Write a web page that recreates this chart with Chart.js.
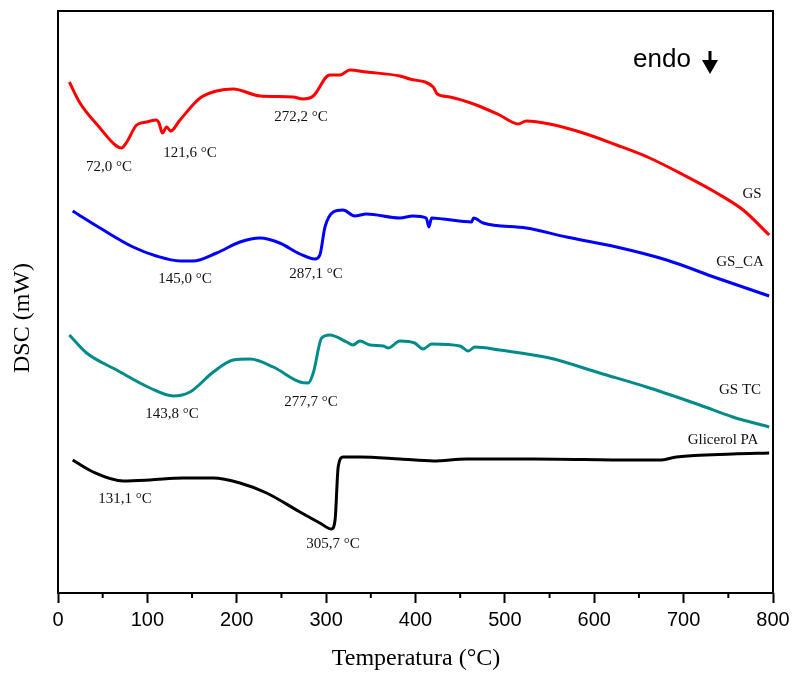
<!DOCTYPE html>
<html>
<head>
<meta charset="utf-8">
<script src="https://cdn.jsdelivr.net/npm/chart.js@4.4.1/dist/chart.umd.min.js"></script>
<style>
  html, body { margin: 0; padding: 0; background: #fff; }
  #wrap { width: 792px; height: 674px; }
</style>
</head>
<body>
<div id="wrap"><canvas id="myChart"></canvas></div>
<script>
// temperature (°C) / heat flow (arbitrary offset, mW)
var gsTemp = [12.7, 24.6, 47, 64, 71, 77, 88, 99, 110, 113, 116.7, 121.6, 126, 136.5, 159, 177.5, 196, 226, 263, 274, 285.6, 304, 315.4, 326.6, 345, 382.6, 393.7, 419.8, 424.3, 438.5, 468, 494, 515, 524, 550, 587.6, 625, 662, 700, 737, 766.6, 795.7];
var gsDsc  = [511, 490, 465, 448, 445, 451, 468, 471, 473, 470, 460, 466, 462, 473, 495, 502, 504, 497, 496, 494, 497, 518, 518, 523, 521, 517, 514, 506, 499, 496, 488, 478, 469, 472, 469, 460, 448, 435, 418, 400, 383, 358];

var gsCaTemp = [16.4, 47, 84, 110, 136.5, 151, 177.5, 203.6, 226, 248, 270.7, 287.5, 293, 298.7, 308, 319, 332, 345, 382.6, 397, 412, 415, 418, 431, 462.7, 465, 475.7, 524, 569, 625, 681, 737, 795.7];
var gsCaDsc  = [382, 365, 346, 337, 332, 332, 340, 351, 355, 350, 339, 334, 338, 366, 381, 383, 377, 379, 375, 377, 375, 366, 375, 374, 371, 375, 370, 365, 356, 346, 333, 315, 297];

var gsTcTemp = [12.7, 32, 65.6, 103, 129, 147.7, 173.7, 196, 214.8, 240.8, 270.7, 280, 285.6, 295, 304, 323, 330, 337.8, 349, 364, 369.5, 382.6, 399, 408.6, 418, 449.7, 459, 466.5, 494, 550, 606, 662, 718, 755, 795.7];
var gsTcDsc  = [258, 240, 223, 205, 197, 201, 221, 233, 234, 226, 211, 210, 220, 255, 258, 251, 248, 252, 248, 247, 245, 252, 250, 244, 249, 247, 242, 246, 243, 235, 220, 205, 188, 176, 166];

var glicTemp = [16.4, 39.5, 73, 103, 140, 173.7, 203.6, 233.4, 270.7, 293, 306, 310, 313.5, 319, 337.8, 382.6, 420, 457, 532, 643.6, 673, 692, 755, 795.7];
var glicDsc  = [133, 121, 112, 113, 115, 115, 110, 100, 81, 70, 64, 73, 126, 136, 136, 134, 132, 134, 134, 133, 133, 136, 139, 140];

var seriesNames = ["GS", "GS_CA", "GS TC", "Glicerol PA"];
var peakLabels = ["72,0 °C", "121,6 °C", "272,2 °C", "145,0 °C", "287,1 °C", "143,8 °C", "277,7 °C", "131,1 °C", "305,7 °C"];
var xTicks = [0, 100, 200, 300, 400, 500, 600, 700, 800];

function pts(xs, ys) {
    var out = [];
    for (var i = 0; i < xs.length; i++) {
        out.push({x: xs[i], y: ys[i]});
    }
    return out;
}

// where the texts sit (pixels)
var peakPos = [[109,167],[190,153],[301,117],[185,279],[316,274],[172,414],[311,402],[125,499],[333,544]];
var namePos = [[752,194],[740,262],[740,390],[723,440]];

var extras = {
    id: 'extras',
    afterDraw: function (chart) {
        var ctx = chart.ctx;
        var a = chart.chartArea;
        var xs = chart.scales.x;
        ctx.save();
        // frame
        ctx.strokeStyle = '#000';
        ctx.lineWidth = 2;
        ctx.strokeRect(a.left, a.top, a.right - a.left, a.bottom - a.top);
        // minor ticks
        for (var t = 50; t < 800; t += 100) {
            var px = xs.getPixelForValue(t);
            ctx.beginPath();
            ctx.moveTo(px, a.bottom);
            ctx.lineTo(px, a.bottom + 5);
            ctx.stroke();
        }
        // peak labels
        ctx.fillStyle = '#111';
        ctx.textAlign = 'center';
        ctx.textBaseline = 'middle';
        ctx.font = '15px "Liberation Serif"';
        for (var i = 0; i < peakLabels.length; i++) {
            ctx.fillText(peakLabels[i], peakPos[i][0], peakPos[i][1]);
        }
        for (var j = 0; j < seriesNames.length; j++) {
            ctx.fillText(seriesNames[j], namePos[j][0], namePos[j][1]);
        }
        // axis titles
        ctx.fillStyle = '#000';
        ctx.font = '24px "Liberation Serif"';
        ctx.fillText('Temperatura (°C)', 416, 659);
        ctx.save();
        ctx.translate(23, 318);
        ctx.rotate(-Math.PI / 2);
        ctx.fillText('DSC (mW)', 0, 0);
        ctx.restore();
        // endo arrow
        ctx.textAlign = 'left';
        ctx.textBaseline = 'alphabetic';
        ctx.font = '26px "Liberation Sans"';
        ctx.fillText('endo', 633, 67);
        ctx.lineWidth = 3;
        ctx.beginPath();
        ctx.moveTo(710, 51);
        ctx.lineTo(710, 63);
        ctx.stroke();
        ctx.beginPath();
        ctx.moveTo(702, 60);
        ctx.lineTo(718, 60);
        ctx.lineTo(710, 74);
        ctx.closePath();
        ctx.fill();
        ctx.restore();
    }
};

function ds(label, data, color) {
    return {
        label: label,
        data: data,
        borderColor: color,
        borderWidth: 3,
        pointRadius: 0,
        fill: false,
        cubicInterpolationMode: 'monotone'
    };
}

var ctx = document.getElementById('myChart').getContext('2d');
var myChart = new Chart(ctx, {
    type: 'line',
    data: {
        datasets: [
            ds(seriesNames[0], pts(gsTemp, gsDsc), '#ff0000'),
            ds(seriesNames[1], pts(gsCaTemp, gsCaDsc), '#0000ff'),
            ds(seriesNames[2], pts(gsTcTemp, gsTcDsc), '#008b8b'),
            ds(seriesNames[3], pts(glicTemp, glicDsc), '#000000')
        ]
    },
    options: {
        responsive: true,
        maintainAspectRatio: false,
        animation: false,
        layout: { padding: { top: 11, right: 19, left: 0, bottom: 0 } },
        plugins: { legend: { display: false }, tooltip: { enabled: false } },
        scales: {
            x: {
                type: 'linear',
                min: 0,
                max: 800,
                afterBuildTicks: function (scale) {
                    scale.ticks = xTicks.map(function (v) { return {value: v}; });
                },
                afterFit: function (scale) {
                    scale.height = 81;
                    scale.paddingRight = 0;
                    scale.paddingLeft = 0;
                },
                grid: { drawOnChartArea: false, tickLength: 10, tickWidth: 2, tickColor: '#000' },
                border: { display: false },
                ticks: {
                    color: '#000',
                    padding: 5,
                    maxRotation: 0,
                    font: { family: 'Liberation Sans', size: 20 }
                }
            },
            y: {
                type: 'linear',
                min: 0,
                max: 582,
                afterFit: function (scale) { scale.width = 58; },
                grid: { display: false },
                border: { display: false },
                ticks: { display: false }
            }
        }
    },
    plugins: [extras]
});
</script>
</body>
</html>
